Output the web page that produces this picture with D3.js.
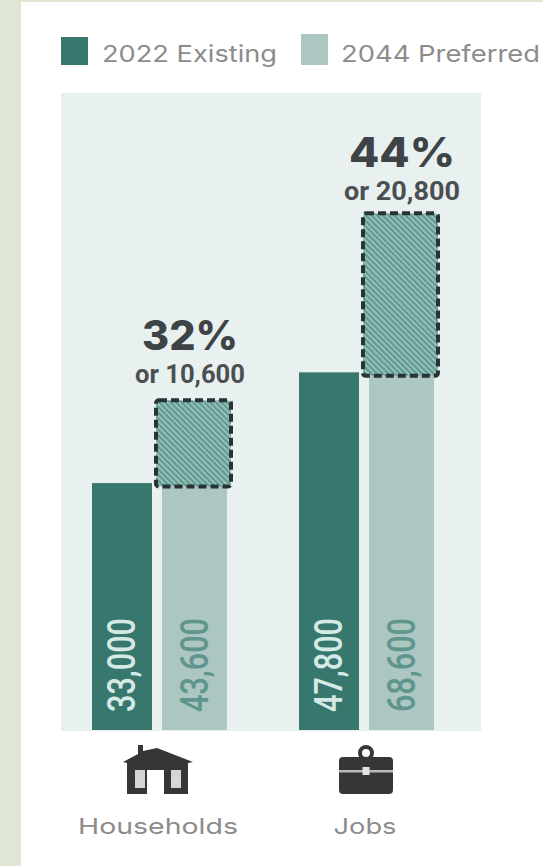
<!DOCTYPE html>
<html>
<head>
<meta charset="utf-8">
<script src="https://cdnjs.cloudflare.com/ajax/libs/d3/7.8.5/d3.min.js"></script>
<style>
html,body{margin:0;padding:0;background:#fff}
svg{display:block}
</style>
</head>
<body>
<div id="chart"></div>
<script>
const categories = ["Households", "Jobs"];
const seriesNames = ["2022 Existing", "2044 Preferred"];
const existing = [33000, 47800];
const preferred = [43600, 68600];
const growthPercent = ["32%", "44%"];
const growthAmount = ["or 10,600", "or 20,800"];
const seriesColors = ["#37776d", "#acc6c2"];
const valueColors = ["#d5e9e5", "#5f958c"];

const width = 543, height = 866;
const svg = d3.select("#chart").append("svg").attr("width", width).attr("height", height);

// Page frame
svg.append("rect").attr("width", width).attr("height", height).attr("fill", "#fff");
svg.append("rect").attr("width", 21).attr("height", height).attr("fill", "#dfe6d4");
svg.append("rect").attr("width", width).attr("height", 2).attr("fill", "#dfe6d4");

// Hatching for the growth boxes
const defs = svg.append("defs");
const hatch = defs.append("pattern").attr("id", "hatch")
  .attr("width", 4).attr("height", 4)
  .attr("patternUnits", "userSpaceOnUse")
  .attr("patternTransform", "rotate(45)");
hatch.append("rect").attr("width", 4).attr("height", 4).attr("fill", "#96bfb9");
hatch.append("rect").attr("width", 4).attr("height", 2).attr("fill", "#5f9a91");

// Plot panel
svg.append("rect").attr("x", 61).attr("y", 93).attr("width", 420).attr("height", 638).attr("fill", "#e9f0f0");

const y = d3.scaleLinear().domain([0, 85000]).range([730, 94]);
const x = d3.scaleBand().domain(categories).range([92, 434]).paddingInner(72 / 207).paddingOuter(0);
const inner = d3.scaleOrdinal().domain(seriesNames).range([0, 70]);
const barW = d3.scaleOrdinal().domain(seriesNames).range([60, 65]);

const rows = categories.map((c, i) => ({c, i, a: existing[i], b: preferred[i]}));
const groups = svg.selectAll("g.group").data(rows).join("g")
  .attr("class", "group")
  .attr("transform", d => `translate(${x(d.c)},0)`);

// Existing bars
groups.append("rect")
  .attr("x", inner(seriesNames[0])).attr("width", barW(seriesNames[0]))
  .attr("y", d => y(d.a)).attr("height", d => y(0) - y(d.a))
  .attr("fill", seriesColors[0]);

// Preferred bars
groups.append("rect")
  .attr("x", inner(seriesNames[1])).attr("width", barW(seriesNames[1]))
  .attr("y", d => y(d.b)).attr("height", d => y(0) - y(d.b))
  .attr("fill", seriesColors[1]);

// Dashed growth box between the two values
const pad = 3.5;
groups.append("rect")
  .attr("x", inner(seriesNames[1]) - 6).attr("width", barW(seriesNames[1]) + 10)
  .attr("y", d => y(d.b) - pad).attr("height", d => y(d.a) - y(d.b) + 2 * pad)
  .attr("rx", 3)
  .attr("fill", "url(#hatch)")
  .attr("stroke", "#2a3333").attr("stroke-width", 4)
  .attr("stroke-dasharray", "8 4");

// Values written up the bars
const valueLabel = (sel, key, idx) => sel.append("text")
  .attr("transform", `translate(${inner(seriesNames[idx]) + barW(seriesNames[idx]) / 2 + 13},712) rotate(-90)`)
  .attr("font-family", "Roboto, sans-serif")
  .attr("font-size", 38).attr("font-weight", 500)
  .attr("textLength", 94).attr("lengthAdjust", "spacingAndGlyphs")
  .attr("fill", valueColors[idx])
  .text(d => d3.format(",")(d[key]));
valueLabel(groups, "a", 0);
valueLabel(groups, "b", 1);

// Growth callouts
const calloutCenter = [98, 103];
const calloutLift = [54, 50];
const percentWidth = [96, 106];
const amountWidth = [110, 116];
groups.append("text")
  .attr("x", d => calloutCenter[d.i]).attr("y", d => y(d.b) - calloutLift[d.i])
  .attr("text-anchor", "middle")
  .attr("font-family", "Inter, sans-serif").attr("font-weight", 800)
  .attr("font-size", 41).attr("fill", "#3e4345")
  .attr("textLength", d => percentWidth[d.i]).attr("lengthAdjust", "spacingAndGlyphs")
  .text(d => growthPercent[d.i]);
groups.append("text")
  .attr("x", d => calloutCenter[d.i]).attr("y", d => y(d.b) - calloutLift[d.i] + 33)
  .attr("text-anchor", "middle")
  .attr("font-family", "Roboto, sans-serif").attr("font-weight", 700)
  .attr("font-size", 25).attr("fill", "#4a4f51")
  .attr("textLength", d => amountWidth[d.i]).attr("lengthAdjust", "spacingAndGlyphs")
  .text(d => growthAmount[d.i]);

// Legend
const legendItems = [
  {x: 61, y: 37, h: 28, tx: 102, tl: 175},
  {x: 301, y: 34, h: 31, tx: 341, tl: 199}
];
const legend = svg.selectAll("g.legend").data(seriesNames).join("g").attr("class", "legend");
legend.append("rect")
  .attr("x", (d, i) => legendItems[i].x).attr("y", (d, i) => legendItems[i].y)
  .attr("width", 27).attr("height", (d, i) => legendItems[i].h)
  .attr("fill", (d, i) => seriesColors[i]);
legend.append("text")
  .attr("x", (d, i) => legendItems[i].tx).attr("y", 62)
  .attr("font-family", "Inter, sans-serif").attr("font-size", 23)
  .attr("textLength", (d, i) => legendItems[i].tl).attr("lengthAdjust", "spacingAndGlyphs")
  .attr("fill", "#8c8c8c")
  .text(d => d);

// Category icons
const iconColor = "#363636";
const house = svg.append("g").attr("transform", "translate(158,745)");
house.append("path").attr("fill", iconColor).attr("d",
  "M-35 17 L-20 9 L-20 0 L-15 0 L-15 6 L-1 3 L35 17 L30 18 L30 49 L6 49 L6 25 L-11 25 L-11 49 L-31 49 L-31 18 Z");
house.selectAll("rect.window").data([-23, 13]).join("rect")
  .attr("class", "window")
  .attr("x", d => d).attr("y", 25).attr("width", 10).attr("height", 18)
  .attr("fill", "#d6d6d6");
const brief = svg.append("g").attr("transform", "translate(366,745)");
brief.append("circle").attr("cy", 8).attr("r", 6).attr("fill", "none").attr("stroke", iconColor).attr("stroke-width", 4);
brief.append("rect").attr("x", -27).attr("y", 12).attr("width", 54).attr("height", 37).attr("rx", 4).attr("fill", iconColor);
brief.append("rect").attr("x", -27).attr("y", 25).attr("width", 54).attr("height", 2.5).attr("fill", "#b9b9b9");
brief.append("rect").attr("x", -3.5).attr("y", 22).attr("width", 7).attr("height", 8).attr("fill", "#e4e4e4");

// Category names
svg.selectAll("text.category").data(categories).join("text")
  .attr("class", "category")
  .attr("x", d => d === "Jobs" ? 365 : 158).attr("y", 834)
  .attr("text-anchor", "middle")
  .attr("font-family", "Inter, sans-serif").attr("font-size", 22)
  .attr("textLength", d => d === "Jobs" ? 63 : 160).attr("lengthAdjust", "spacingAndGlyphs")
  .attr("fill", "#8c8c8c")
  .text(d => d);
</script>
</body>
</html>
